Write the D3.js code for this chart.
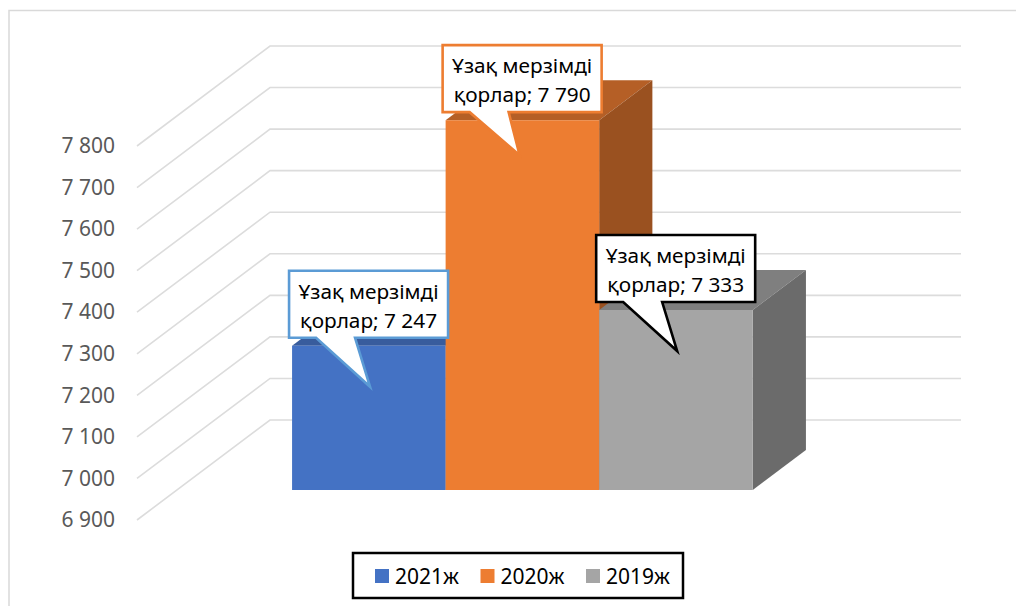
<!DOCTYPE html>
<meta charset="utf-8">
<style>
  html, body { margin: 0; background: #fff; }
  svg { display: block; font-family: "Noto Sans", sans-serif; }
</style>
<svg width="1016" height="606"></svg>
<script src="https://cdn.jsdelivr.net/npm/d3@7"></script>
<script>
/*global d3*/
var years = ["2021ж", "2020ж", "2019ж"];
var values = [7247, 7790, 7333];
var ticks = [6900, 7000, 7100, 7200, 7300, 7400, 7500, 7600, 7700, 7800];
var seriesName = ["Ұзақ мерзімді", "қорлар"];

var faceColor = ["#4472c4", "#ed7d31", "#a5a5a5"];
var topColor = ["#385c9d", "#b55f26", "#7f7f7f"];
var sideColor = ["#2f5085", "#9a5120", "#6b6b6b"];
var calloutColor = ["#5b9bd5", "#ed7d31", "#000000"];
var tipOffset = [[81, 116], [77, 110], [81, 116]];

var svg = d3.select("svg");
var locale = d3.formatLocale({ decimal: ".", thousands: " ", grouping: [3], currency: ["", ""] });
var fmt = locale.format(",d");

// front plane of the box, the rest is sheared back by depth
var y = d3.scaleLinear().domain([6900, 7800]).range([520, 146]);
var x = d3.scaleBand().domain(years).range([137, 828]).paddingInner(0).paddingOuter(0.75);
var depthX = d3.scaleLinear().domain([0, 1]).range([0, 133]);
var depthY = d3.scaleLinear().domain([0, 1]).range([0, -100]);
var barFront = 0.3, barBack = 0.7;

// chart area border
svg.append("path")
  .attr("d", "M9,606V10.5H1016")
  .attr("fill", "none").attr("stroke", "#d9d9d9").attr("stroke-width", 1.5);

// gridlines: side wall then back wall
svg.append("g").selectAll("path").data(ticks).join("path")
  .attr("d", function(t) {
    return d3.line()([
      [x.range()[0], y(t)],
      [x.range()[0] + depthX(1), y(t) + depthY(1)],
      [x.range()[1] + depthX(1), y(t) + depthY(1)]
    ]);
  })
  .attr("fill", "none").attr("stroke", "#dcdcdc").attr("stroke-width", 1.6);

// value axis
var axis = svg.append("g")
  .attr("transform", "translate(115,0)")
  .call(d3.axisLeft(y).tickValues(ticks).tickSize(0).tickPadding(0).tickFormat(fmt));
axis.select(".domain").remove();
axis.selectAll("text").attr("font-size", 21).attr("font-family", "Noto Sans").attr("fill", "#595959");

// bars, later ones paint over the earlier ones
var bars = svg.append("g").selectAll("g").data(years).join("g");
function poly(pts) { return d3.line()(pts) + "Z"; }
function corners(i) {
  var x0 = x(years[i]), x1 = x0 + x.bandwidth();
  return {
    x0: x0, x1: x1,
    b: y(ticks[0]),
    t: y(values[i])
  };
}
bars.append("path").attr("fill", function(d, i) { return topColor[i]; })
  .attr("d", function(d, i) {
    var c = corners(i), fx = depthX(barFront), fy = depthY(barFront), bx = depthX(barBack), by = depthY(barBack);
    return poly([[c.x0 + fx, c.t + fy], [c.x1 + fx, c.t + fy], [c.x1 + bx, c.t + by], [c.x0 + bx, c.t + by]]);
  });
bars.append("path").attr("fill", function(d, i) { return sideColor[i]; })
  .attr("d", function(d, i) {
    var c = corners(i), fx = depthX(barFront), fy = depthY(barFront), bx = depthX(barBack), by = depthY(barBack);
    return poly([[c.x1 + fx, c.t + fy], [c.x1 + bx, c.t + by], [c.x1 + bx, c.b + by], [c.x1 + fx, c.b + fy]]);
  });
bars.append("path").attr("fill", function(d, i) { return faceColor[i]; })
  .attr("d", function(d, i) {
    var c = corners(i), fx = depthX(barFront), fy = depthY(barFront);
    return poly([[c.x0 + fx, c.t + fy], [c.x1 + fx, c.t + fy], [c.x1 + fx, c.b + fy], [c.x0 + fx, c.b + fy]]);
  });

// callouts
var boxW = 159, boxH = 67;
var callouts = svg.append("g").selectAll("g").data(years).join("g")
  .attr("transform", function(d, i) {
    var c = corners(i);
    return "translate(" + (c.x0 + depthX(barFront) - 3) + "," + (c.t + depthY(barFront) - 75) + ")";
  });
callouts.append("path")
  .attr("fill", "#fff")
  .attr("stroke", function(d, i) { return calloutColor[i]; })
  .attr("stroke-width", 2.6)
  .attr("stroke-linejoin", "miter")
  .attr("d", function(d, i) {
    var t = tipOffset[i];
    return d3.line()([[0, 0], [boxW, 0], [boxW, boxH], [66, boxH], t, [27, boxH], [0, boxH]]) + "Z";
  });
callouts.append("text")
  .attr("text-anchor", "middle").attr("x", boxW / 2).attr("y", 28)
  .attr("font-size", 20.8).attr("fill", "#000")
  .text(seriesName[0]);
callouts.append("text")
  .attr("text-anchor", "middle").attr("x", boxW / 2).attr("y", 57)
  .attr("font-size", 20.8).attr("fill", "#000")
  .text(function(d, i) { return seriesName[1] + "; " + fmt(values[i]); });

// legend
var legend = svg.append("g");
legend.append("rect")
  .attr("x", 353).attr("y", 553).attr("width", 330).attr("height", 45)
  .attr("fill", "#fff").attr("stroke", "#000").attr("stroke-width", 2.5);
var legendX = d3.scalePoint().domain(years).range([375, 586]);
var items = legend.selectAll("g").data(years).join("g")
  .attr("transform", function(d) { return "translate(" + legendX(d) + ",569)"; });
items.append("rect").attr("width", 14).attr("height", 14)
  .attr("fill", function(d, i) { return faceColor[i]; });
items.append("text").attr("x", 20).attr("y", 14.5)
  .attr("font-size", 21).attr("fill", "#000")
  .text(function(d) { return d; });
</script>
